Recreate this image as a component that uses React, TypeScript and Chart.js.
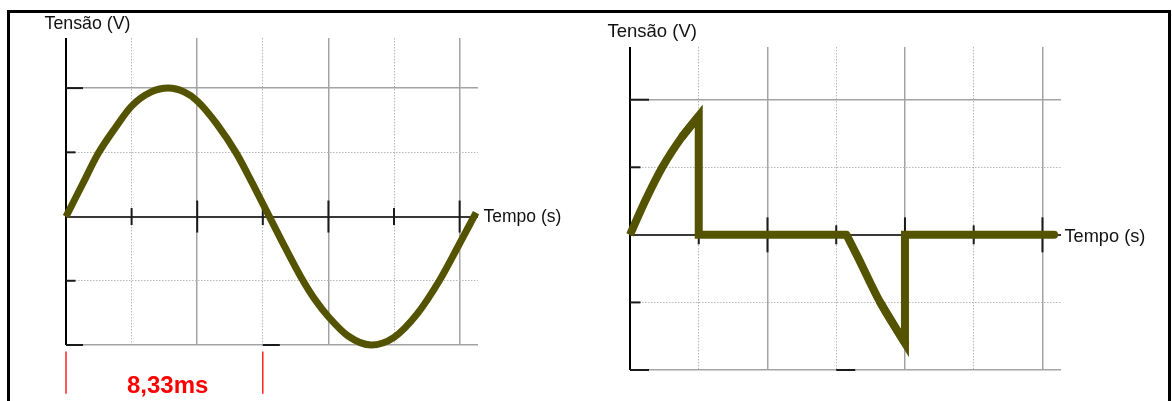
import React, { useEffect, useRef } from "react";
import { Chart, registerables } from "chart.js";

Chart.register(...registerables);

// ---- values (x in grid divisions, y in units of the ±1 grid) ----
// left: full sine wave
const sineTime = [
  0, 0.25, 0.49, 0.75, 1.0, 1.3, 1.56, 1.8, 2.0, 2.3, 2.6, 2.85, 3.1, 3.35, 3.58, 3.8, 4.0, 4.3,
  4.65, 5.0, 5.35, 5.69, 6.0, 6.25,
];
const sineVolt = [
  0, 0.25, 0.49, 0.69, 0.86, 0.97, 1.0, 0.97, 0.9, 0.72, 0.49, 0.25, 0, -0.25, -0.47, -0.65,
  -0.78, -0.93, -1.0, -0.94, -0.76, -0.5, -0.21, 0.03,
];
// right: phase-cut wave (curved conduction parts + straight off parts)
const riseTime = [0, 0.22, 0.47, 0.75, 1.0];
const riseVolt = [0, 0.25, 0.5, 0.72, 0.88];
const dipTime = [3.15, 3.3, 3.64, 4.0];
const dipVolt = [0, -0.15, -0.5, -0.8];
const offTimeA = [0.75, 1.0, 1.0, 3.15];
const offVoltA = [0.72, 0.88, 0, 0];
const offTimeB = [3.64, 4.0, 4.0, 6.17];
const offVoltB = [-0.5, -0.8, 0, 0];

const gridX = [0, 1, 2, 3, 4, 5, 6];
const gridY = [-1, -0.5, 0, 0.5, 1];
const majorTickX = [2, 4, 6];
const minorTickX = [1, 3, 5];
const majorTickY = [1];
const minorTickY = [0.5, -0.5];
const baseTickX = [0, 3];
const periodMarkX = [0, 3];
const periodMarkY = [-1.05, -1.38];

const axisYLabel = "Tensão (V)";
const axisXLabel = "Tempo (s)";
const periodLabel = "8,33ms";

const WAVE = "#545400";
const INK = "#1a1a1a";
const FONT = '"Liberation Sans", Arial, sans-serif';

type Wave = { time: number[]; volt: number[]; smooth: boolean; cap: string; join: string };

type Spec = {
  waves: Wave[];
  width: number;
  xMax: number;
  yMin: number;
  yMax: number;
  pad: { left: number; top: number; right: number; bottom: number };
  tickMajor: number;
  tickMinor: number;
  dashMajor: number;
  dashMinor: number;
  marks: boolean;
};

const leftSpec: Spec = {
  waves: [{ time: sineTime, volt: sineVolt, smooth: true, cap: "butt", join: "round" }],
  width: 7,
  xMax: 6.28,
  yMin: -1,
  yMax: 1.39,
  pad: { left: 66, top: 38, right: 112, bottom: 56 },
  tickMajor: 16,
  tickMinor: 8.5,
  dashMajor: 17,
  dashMinor: 9.5,
  marks: true,
};

const rightSpec: Spec = {
  waves: [
    { time: riseTime, volt: riseVolt, smooth: true, cap: "butt", join: "round" },
    { time: offTimeA, volt: offVoltA, smooth: false, cap: "butt", join: "miter" },
    { time: dipTime, volt: dipVolt, smooth: true, cap: "round", join: "round" },
    { time: offTimeB, volt: offVoltB, smooth: false, cap: "round", join: "miter" },
  ],
  width: 8,
  xMax: 6.27,
  yMin: -1,
  yMax: 1.39,
  pad: { left: 40, top: 47, right: 111, bottom: 31 },
  tickMajor: 17.5,
  tickMinor: 9.5,
  dashMajor: 19,
  dashMinor: 10.5,
  marks: false,
};

function pts(xs: number[], ys: number[]) {
  return xs.map((x, i) => ({ x, y: ys[i] }));
}

function buildConfig(s: Spec): any {
  const markSet = (style: string, rot: number, r: number, data: any[]) => ({
    data,
    showLine: false,
    pointStyle: style,
    pointRotation: rot,
    pointRadius: r,
    pointHoverRadius: r,
    pointBorderColor: INK,
    pointBackgroundColor: INK,
    pointBorderWidth: 2,
    clip: false,
  });

  const datasets: any[] = s.waves.map((w) => ({
    data: pts(w.time, w.volt),
    showLine: true,
    borderColor: WAVE,
    backgroundColor: WAVE,
    borderWidth: s.width,
    pointRadius: 0,
    pointHoverRadius: 0,
    fill: false,
    tension: 0,
    cubicInterpolationMode: w.smooth ? "monotone" : "default",
    borderCapStyle: w.cap,
    borderJoinStyle: w.join,
    clip: false,
  }));

  datasets.push(
    markSet("line", 90, s.tickMajor, majorTickX.map((x) => ({ x, y: 0 }))),
    markSet("line", 90, s.tickMinor, minorTickX.map((x) => ({ x, y: 0 }))),
    markSet("dash", 0, s.dashMajor, [
      ...majorTickY.map((y) => ({ x: 0, y })),
      ...baseTickX.map((x) => ({ x, y: s.yMin })),
    ]),
    markSet("dash", 0, s.dashMinor, minorTickY.map((y) => ({ x: 0, y })))
  );

  if (s.marks) {
    periodMarkX.forEach((x) =>
      datasets.push({
        data: periodMarkY.map((y) => ({ x, y })),
        showLine: true,
        borderColor: "#ff0000",
        borderWidth: 1.3,
        pointRadius: 0,
        pointHoverRadius: 0,
        clip: false,
      })
    );
  }

  const xColor = (v: number) => (v === 0 ? "#000000" : v % 2 === 0 ? "#a3a3a3" : "#b8b8b8");
  const xWidth = (v: number) => (v === 0 ? 2 : v % 2 === 0 ? 1.5 : 1);
  const yColor = (v: number) => (v === 0 ? "#383838" : Math.abs(v) === 1 ? "#a3a3a3" : "#b8b8b8");
  const yWidth = (v: number) => (v === 0 ? 2 : Math.abs(v) === 1 ? 1.5 : 1);

  return {
    type: "scatter",
    data: { datasets },
    options: {
      animation: false,
      responsive: false,
      devicePixelRatio: 1,
      events: [],
      layout: { padding: s.pad },
      plugins: {
        legend: { display: false },
        tooltip: { enabled: false },
        title: { display: false },
      },
      scales: {
        x: {
          type: "linear",
          min: 0,
          max: s.xMax,
          afterBuildTicks: (sc: any) => {
            sc.ticks = gridX.map((v) => ({ value: v }));
          },
          afterFit: (sc: any) => {
            sc.height = 0;
          },
          ticks: { display: false },
          grid: {
            drawTicks: false,
            color: (c: any) => (c.tick ? xColor(c.tick.value) : "#a3a3a3"),
            lineWidth: (c: any) => (c.tick ? xWidth(c.tick.value) : 1),
          },
          border: {
            display: false,
            dash: (c: any) => (c.tick && c.tick.value % 2 === 1 ? [1.5, 1.5] : []),
          },
        },
        y: {
          type: "linear",
          min: s.yMin,
          max: s.yMax,
          afterBuildTicks: (sc: any) => {
            sc.ticks = gridY.map((v) => ({ value: v }));
          },
          afterFit: (sc: any) => {
            sc.width = 0;
          },
          ticks: { display: false },
          grid: {
            drawTicks: false,
            color: (c: any) => (c.tick ? yColor(c.tick.value) : "#a3a3a3"),
            lineWidth: (c: any) => (c.tick ? yWidth(c.tick.value) : 1),
          },
          border: {
            display: false,
            dash: (c: any) => (c.tick && Math.abs(c.tick.value) === 0.5 ? [1.5, 1.5] : []),
          },
        },
      },
    },
  };
}

function Plot({ spec, left, width }: { spec: Spec; left: number; width: number }) {
  const ref = useRef<HTMLCanvasElement>(null);
  useEffect(() => {
    if (!ref.current) return;
    const chart = new Chart(ref.current, buildConfig(spec));
    return () => chart.destroy();
  }, [spec]);
  return (
    <canvas
      ref={ref}
      width={width}
      height={401}
      style={{ position: "absolute", left, top: 0, width, height: 401, display: "block" }}
    />
  );
}

function Label({
  text,
  left,
  top,
  size,
  color = "#111111",
  bold = false,
}: {
  text: string;
  left: number;
  top: number;
  size: number;
  color?: string;
  bold?: boolean;
}) {
  return (
    <span
      style={{
        position: "absolute",
        left,
        top,
        fontFamily: FONT,
        fontSize: size,
        lineHeight: `${size}px`,
        fontWeight: bold ? 700 : 400,
        color,
        whiteSpace: "nowrap",
      }}
    >
      {text}
    </span>
  );
}

export default function App() {
  return (
    <div
      style={{
        position: "absolute",
        left: 0,
        top: 0,
        width: 1172,
        height: 401,
        overflow: "hidden",
        background: "#ffffff",
      }}
    >
      <div
        style={{
          position: "absolute",
          left: 7,
          top: 10,
          width: 1164,
          height: 430,
          border: "3px solid #000",
          boxSizing: "border-box",
        }}
      />
      <Plot spec={leftSpec} left={0} width={590} />
      <Plot spec={rightSpec} left={590} width={582} />
      <Label text={axisYLabel} left={44.5} top={15} size={17.8} />
      <Label text={axisXLabel} left={483.5} top={208} size={17.5} />
      <Label text={axisYLabel} left={607.5} top={22.3} size={18.5} />
      <Label text={axisXLabel} left={1064.5} top={226.6} size={18.2} />
      <Label text={periodLabel} left={127} top={373} size={24} color="#ff0000" bold />
    </div>
  );
}
